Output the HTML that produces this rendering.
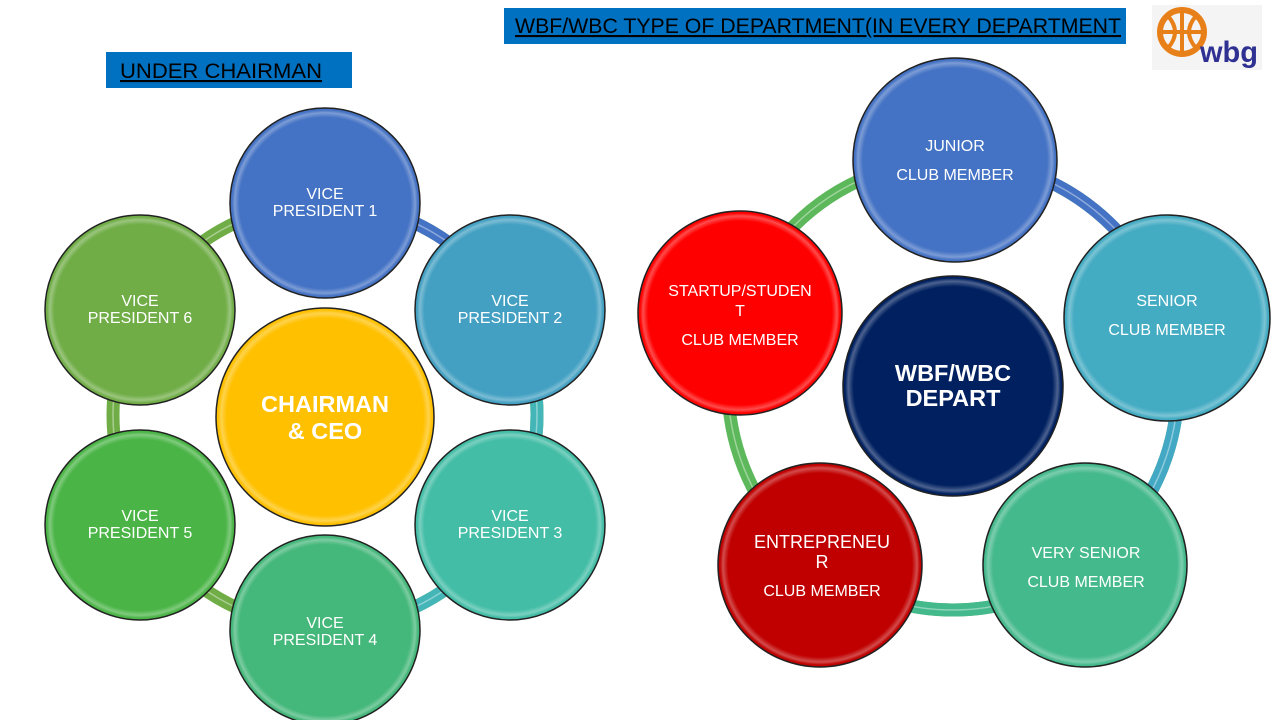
<!DOCTYPE html>
<html><head><meta charset="utf-8"><style>
html,body{margin:0;padding:0;background:#fff;}
svg{display:block}
text{font-family:"Liberation Sans",sans-serif;fill:#fff}
</style></head><body>
<svg width="1280" height="720" viewBox="0 0 1280 720" xmlns="http://www.w3.org/2000/svg">
<defs>
<radialGradient id="sh" cx="50%" cy="50%" r="50%">
<stop offset="0.92" stop-color="#fff" stop-opacity="0"/>
<stop offset="0.97" stop-color="#fff" stop-opacity="0.3"/>
<stop offset="1" stop-color="#fff" stop-opacity="0"/>
</radialGradient>
</defs>
<!-- headers -->
<rect x="504" y="8" width="622" height="36" fill="#0070c0"/>
<text x="515" y="33" font-size="21" textLength="606" lengthAdjust="spacingAndGlyphs" style="fill:#000" text-decoration="underline">WBF/WBC TYPE OF DEPARTMENT(IN EVERY DEPARTMENT</text>
<rect x="106" y="52" width="246" height="36" fill="#0070c0"/>
<text x="120" y="78" font-size="21" textLength="202" lengthAdjust="spacingAndGlyphs" style="fill:#000" text-decoration="underline">UNDER CHAIRMAN</text>
<!-- logo -->
<rect x="1152" y="5" width="110" height="65" fill="#f4f4f4"/>
<circle cx="1182" cy="32" r="22" fill="none" stroke="#e8801a" stroke-width="6"/>
<path d="M1161 32h42M1182 10v44M1168 16q14 16 0 32M1196 16q-14 16 0 32" stroke="#e8801a" stroke-width="4" fill="none"/>
<text x="1200" y="62" font-size="30" font-weight="bold" textLength="58" lengthAdjust="spacingAndGlyphs" style="fill:#2e3192">wbg</text>

<!-- left ring -->
<g fill="none" stroke-width="13">
<circle cx="325" cy="415" r="212" stroke="#70ad47"/>
<path d="M325 203 A212 212 0 0 1 508.6 309" stroke="#4472c4"/>
<path d="M508.6 309 A212 212 0 0 1 325 627" stroke="#44b6b8"/>
</g>
<circle cx="325" cy="415" r="212" fill="none" stroke="#fff" stroke-width="1.5" opacity="0.4"/>
<g stroke="#222" stroke-width="1.5">
<circle cx="325" cy="203" r="95" fill="#4472c4"/>
<circle cx="510" cy="310" r="95" fill="#43a0c2"/>
<circle cx="510" cy="525" r="95" fill="#43bda6"/>
<circle cx="325" cy="630" r="95" fill="#44b77a"/>
<circle cx="140" cy="525" r="95" fill="#4ab446"/>
<circle cx="140" cy="310" r="95" fill="#70ad47"/>
<circle cx="325" cy="417" r="109" fill="#ffc000"/>
</g>
<g fill="url(#sh)">
<circle cx="325" cy="203" r="93"/><circle cx="510" cy="310" r="93"/><circle cx="510" cy="525" r="93"/>
<circle cx="325" cy="630" r="93"/><circle cx="140" cy="525" r="93"/><circle cx="140" cy="310" r="93"/>
<circle cx="325" cy="417" r="107"/>
</g>
<g font-size="16" text-anchor="middle">
<text x="325" y="199">VICE</text><text x="325" y="216">PRESIDENT 1</text>
<text x="510" y="306">VICE</text><text x="510" y="323">PRESIDENT 2</text>
<text x="510" y="521">VICE</text><text x="510" y="538">PRESIDENT 3</text>
<text x="325" y="628">VICE</text><text x="325" y="645">PRESIDENT 4</text>
<text x="140" y="521">VICE</text><text x="140" y="538">PRESIDENT 5</text>
<text x="140" y="306">VICE</text><text x="140" y="323">PRESIDENT 6</text>
</g>
<g font-size="23.5" font-weight="bold" text-anchor="middle">
<text x="325" y="412">CHAIRMAN</text><text x="325" y="439">&amp; CEO</text>
</g>

<!-- right ring -->
<g fill="none" stroke-width="13">
<circle cx="953" cy="385" r="225" stroke="#5cb85a"/>
<path d="M953 160 A225 225 0 0 1 1168.2 319.2" stroke="#4472c4"/>
<path d="M1168.2 319.2 A225 225 0 0 1 1086.2 566.3" stroke="#43a8c4"/>
<path d="M1086.2 566.3 A225 225 0 0 1 819.2 565.9" stroke="#44b98c"/>
</g>
<circle cx="953" cy="385" r="225" fill="none" stroke="#fff" stroke-width="1.5" opacity="0.4"/>
<g stroke="#222" stroke-width="1.5">
<circle cx="955" cy="160" r="102" fill="#4472c4"/>
<circle cx="1167" cy="318" r="103" fill="#43abc2"/>
<circle cx="1085" cy="565" r="102" fill="#44b98c"/>
<circle cx="820" cy="565" r="102" fill="#c00000"/>
<circle cx="740" cy="313" r="102" fill="#ff0000"/>
<circle cx="953" cy="386" r="110" fill="#002060"/>
</g>
<g fill="url(#sh)">
<circle cx="955" cy="160" r="100"/><circle cx="1167" cy="318" r="101"/><circle cx="1085" cy="565" r="100"/>
<circle cx="820" cy="565" r="100"/><circle cx="740" cy="313" r="100"/><circle cx="953" cy="386" r="108"/>
</g>
<g font-size="16" text-anchor="middle">
<text x="955" y="151">JUNIOR</text><text x="955" y="180">CLUB MEMBER</text>
<text x="1167" y="306">SENIOR</text><text x="1167" y="335">CLUB MEMBER</text>
<text x="1086" y="558">VERY SENIOR</text><text x="1086" y="587">CLUB MEMBER</text>
<text x="822" y="548" font-size="18">ENTREPRENEU</text><text x="822" y="568" font-size="18">R</text>
<text x="822" y="596">CLUB MEMBER</text>
<text x="740" y="296">STARTUP/STUDEN</text><text x="740" y="316">T</text><text x="740" y="345">CLUB MEMBER</text>
</g>
<g font-size="23.5" font-weight="bold" text-anchor="middle">
<text x="953" y="381">WBF/WBC</text><text x="953" y="406">DEPART</text>
</g>
</svg>
</body></html>
